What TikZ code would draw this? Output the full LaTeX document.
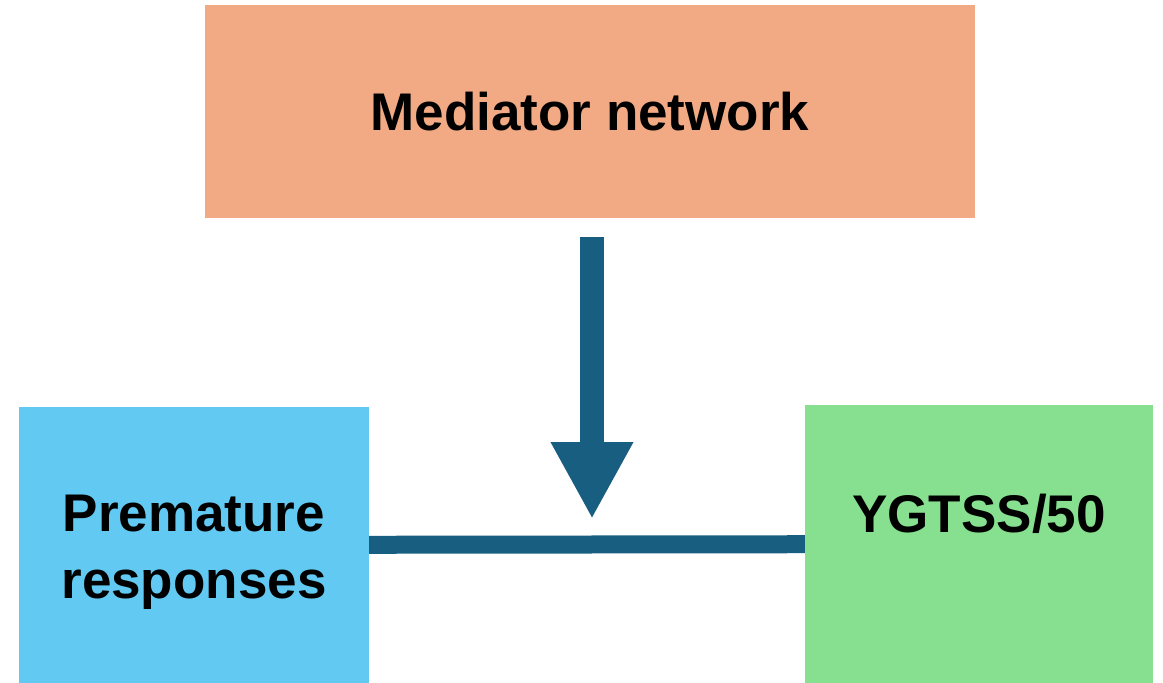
\documentclass[tikz,border=0pt]{standalone}
\usepackage{fontspec}
\setmainfont{Liberation Sans}
\usepackage{tikz}
\usetikzlibrary{arrows.meta, positioning}
\definecolor{salmonbox}{RGB}{242,170,133}
\definecolor{skybox}{RGB}{98,202,242}
\definecolor{greenbox}{RGB}{134,224,143}
\definecolor{linkblue}{RGB}{23,94,128}
\tikzstyle{block} = [
    rectangle, 
    inner sep=0pt,
    align=center, 
    font=\fontsize{53}{67}\selectfont\bfseries
]
\tikzstyle{mediator} = [block, minimum width=770pt, minimum height=213pt, fill=salmonbox]
\tikzstyle{predictor} = [block, minimum width=350pt, minimum height=276pt, fill=skybox]
\tikzstyle{outcome} = [block, minimum width=348pt, minimum height=278pt, fill=greenbox]
\tikzstyle{path} = [line width=18pt, draw=linkblue]
\tikzstyle{fatarrow} = [line width=24pt, draw=linkblue, -{Triangle[width=77pt, length=77pt]}]

\begin{document}
\begin{tikzpicture}[x=1pt, y=-1pt]
\useasboundingbox (0,0) rectangle (1163,683);

% Nodes
\node (med) [mediator] at (590,111.5) {Mediator network};
\node (prem) [predictor] at (194,545) {\raisebox{-7pt}[\height][\depth]{\parbox{340pt}{\centering Premature\\responses}}};
\node (ygtss) [outcome] at (979,544) {\raisebox{30pt}[\height][\depth]{YGTSS/50}};
\coordinate (tip) at (592,519);

% Arrows
\draw [path] (prem) -- (ygtss);
\draw [fatarrow] ([xshift=2pt, yshift=-19pt]med.south) -- (tip);

\end{tikzpicture}
\end{document}
